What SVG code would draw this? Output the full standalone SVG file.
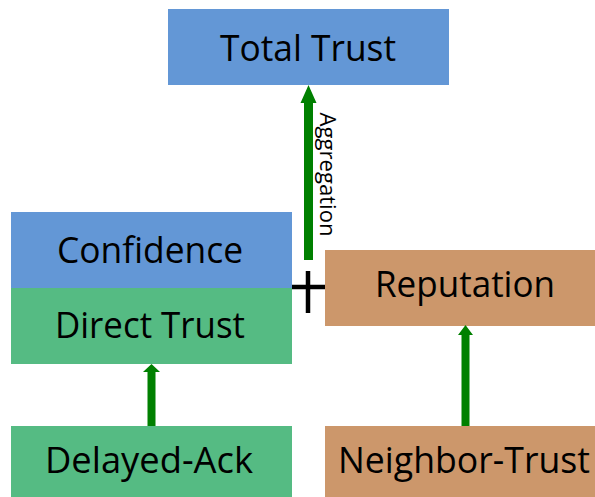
<svg xmlns="http://www.w3.org/2000/svg" width="595" height="497" viewBox="0 0 595 497">
  <style>
    .lbl { font-family: "Open Sans", "Noto Sans", "DejaVu Sans", sans-serif; font-size: 36px; fill: #000; text-anchor: middle; }
    .blue { fill: #6397D6; }
    .green { fill: #55BB83; }
    .tan { fill: #CC976B; }
    .arrow { fill: #008000; }
    .plus { stroke: #000; stroke-width: 4.5; }
    .note { font-family: "Open Sans", "Noto Sans", "DejaVu Sans", sans-serif; font-size: 21px; fill: #000; text-anchor: middle; }
  </style>

  <!-- nodes -->
  <g id="total-trust">
    <rect class="blue" x="168" y="9" width="281" height="76"/>
    <text class="lbl" x="308" y="61" textLength="176" lengthAdjust="spacingAndGlyphs">Total Trust</text>
  </g>
  <g id="confidence">
    <rect class="blue" x="11" y="212" width="281" height="76"/>
    <text class="lbl" x="150" y="263" textLength="186" lengthAdjust="spacingAndGlyphs">Confidence</text>
  </g>
  <g id="direct-trust">
    <rect class="green" x="11" y="288" width="281" height="76"/>
    <text class="lbl" x="150" y="338" textLength="190" lengthAdjust="spacingAndGlyphs">Direct Trust</text>
  </g>
  <g id="reputation">
    <rect class="tan" x="325" y="250" width="270" height="76"/>
    <text class="lbl" x="465" y="297" textLength="180" lengthAdjust="spacingAndGlyphs">Reputation</text>
  </g>
  <g id="delayed-ack">
    <rect class="green" x="11" y="426" width="281" height="71"/>
    <text class="lbl" x="149" y="473" textLength="208" lengthAdjust="spacingAndGlyphs">Delayed-Ack</text>
  </g>
  <g id="neighbor-trust">
    <rect class="tan" x="325" y="426" width="270" height="71"/>
    <text class="lbl" x="464" y="473" textLength="252" lengthAdjust="spacingAndGlyphs">Neighbor-Trust</text>
  </g>

  <!-- connectors -->
  <g id="connectors">
    <!-- aggregation: combined trust up to total trust -->
    <polygon class="arrow" points="304,260 304,103 300.5,103 308.5,85 316.5,103 313,103 313,260"/>
    <text class="note" transform="translate(320,174.5) rotate(90)" textLength="124" lengthAdjust="spacingAndGlyphs">Aggregation</text>
    <!-- combination mark -->
    <line class="plus" x1="292" y1="287" x2="325" y2="287"/>
    <line class="plus" x1="308" y1="271" x2="308" y2="313"/>
    <!-- delayed-ack to direct trust -->
    <polygon class="arrow" points="147.5,426 147.5,372 143,372 151.5,364 160,372 155.5,372 155.5,426"/>
    <!-- neighbor-trust to reputation -->
    <polygon class="arrow" points="461.5,426 461.5,335 458,335 465.5,325 473,335 469.5,335 469.5,426"/>
  </g>
</svg>
